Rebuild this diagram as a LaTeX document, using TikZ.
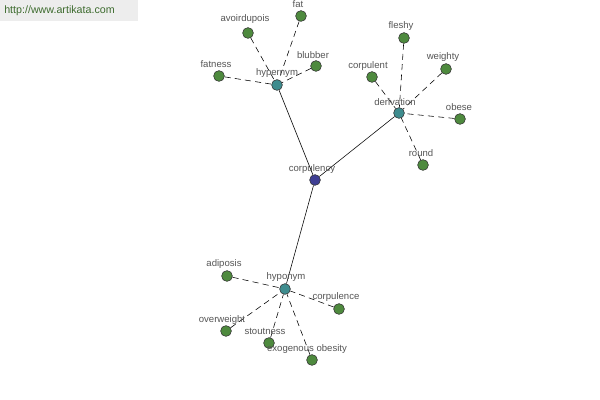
\documentclass[tikz,border=0pt]{standalone}
\usepackage{fontspec}
\setmainfont{Liberation Sans}
\usepackage{xcolor}
\usetikzlibrary{positioning, calc}
\definecolor{leafgreen}{HTML}{4E8A3E}
\definecolor{hubteal}{HTML}{3E8C8E}
\definecolor{rootblue}{HTML}{3F3F94}
\definecolor{lblgray}{HTML}{555555}
\definecolor{urlgreen}{HTML}{3D6B2E}

\begin{document}
\begin{tikzpicture}[
    x=0.025cm, y=-0.025cm,
    leaf/.style={circle, draw=black!80, fill=leafgreen, minimum size=0.27cm, inner sep=0pt, line width=0.4pt},
    hub/.style={circle, draw=black!80, fill=hubteal, minimum size=0.27cm, inner sep=0pt, line width=0.4pt},
    root/.style={circle, draw=black!80, fill=rootblue, minimum size=0.27cm, inner sep=0pt, line width=0.4pt},
    lbl/.style={font=\fontsize{6.8}{8}\selectfont, text=lblgray, inner sep=0pt},
    link/.style={draw, line width=0.4pt},
    syn/.style={draw, line width=0.4pt, dash pattern=on 4.3pt off 3pt}
]
    \useasboundingbox[fill=white] (0,0) rectangle (600,400);

    % Site banner
    \fill[black!7] (0,0) rectangle (138,21);
    \node[font=\fontsize{7.6}{9}\selectfont, text=urlgreen, anchor=west, inner sep=0pt] (url) at (4,11) {http://www.artikata.com};

    % Centre word
    \node[root] (corpulency) at (315,180) {};

    % Relation hubs
    \node[hub] (hypernym) at (277,85) {};
    \node[hub] (derivation) at (399,113) {};
    \node[hub] (hyponym) at (285,289) {};

    \draw[link] (hypernym) -- (corpulency);
    \draw[link] (derivation) -- (corpulency);
    \draw[link] (hyponym) -- (corpulency);

    % Hypernym words
    \node[leaf] (fatness) at (219,76) {};
    \node[leaf] (avoirdupois) at (248,33) {};
    \node[leaf] (fat) at (301,16) {};
    \node[leaf] (blubber) at (316,66) {};
    \foreach \w in {fatness, avoirdupois, fat, blubber}
        \draw[syn] (\w) -- (hypernym);

    % Derivation words
    \node[leaf] (fleshy) at (404,38) {};
    \node[leaf] (corpulent) at (372,77) {};
    \node[leaf] (weighty) at (446,69) {};
    \node[leaf] (obese) at (460,119) {};
    \node[leaf] (round) at (423,165) {};
    \foreach \w in {fleshy, corpulent, weighty, obese, round}
        \draw[syn] (\w) -- (derivation);

    % Hyponym words
    \node[leaf] (adiposis) at (227,276) {};
    \node[leaf] (corpulence) at (339,309) {};
    \node[leaf] (overweight) at (226,331) {};
    \node[leaf] (stoutness) at (269,343) {};
    \node[leaf] (exogenous) at (312,360) {};
    \foreach \w in {adiposis, corpulence, overweight, stoutness, exogenous}
        \draw[syn] (\w) -- (hyponym);

    % Labels
    \node[lbl] (l-corpulency) at (312,169) {corpulency};
    \node[lbl] (l-hypernym) at (277,73) {hypernym};
    \node[lbl] (l-derivation) at (395,102) {derivation};
    \node[lbl] (l-hyponym) at (286,277) {hyponym};
    \node[lbl] (l-fatness) at (216,64) {fatness};
    \node[lbl] (l-avoirdupois) at (245,19) {avoirdupois};
    \node[lbl] (l-fat) at (298,4) {fat};
    \node[lbl] (l-blubber) at (313,55) {blubber};
    \node[lbl] (l-fleshy) at (401,26) {fleshy};
    \node[lbl] (l-corpulent) at (368,66) {corpulent};
    \node[lbl] (l-weighty) at (443,57) {weighty};
    \node[lbl] (l-obese) at (459,107) {obese};
    \node[lbl] (l-round) at (421,153) {round};
    \node[lbl] (l-adiposis) at (224,264) {adiposis};
    \node[lbl] (l-corpulence) at (336,297) {corpulence};
    \node[lbl] (l-overweight) at (222,320) {overweight};
    \node[lbl] (l-stoutness) at (265,331) {stoutness};
    \node[lbl] (l-exogenous) at (307,349) {exogenous obesity};
\end{tikzpicture}
\end{document}
